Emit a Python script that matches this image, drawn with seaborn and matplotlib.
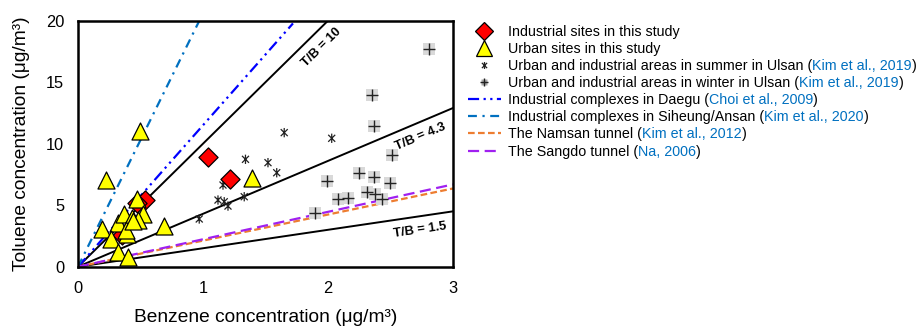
import numpy as np
import pandas as pd
import matplotlib
matplotlib.use("Agg")
import matplotlib.pyplot as plt
from matplotlib.path import Path
from matplotlib.lines import Line2D
from matplotlib.text import Annotation
import seaborn as sns

# ---------------- data ----------------
ind_benzene = [1.04, 1.22, 0.54, 0.47, 0.35]
ind_toluene = [8.94, 7.10, 5.42, 5.20, 2.55]

urb_benzene = [0.50, 0.22, 1.39, 0.19, 0.32, 0.37, 0.43, 0.47, 0.52, 0.48,
               0.69, 0.26, 0.39, 0.38, 0.32, 0.40, 0.44]
urb_toluene = [11.0, 7.05, 7.18, 3.04, 3.53, 4.30, 4.00, 5.48, 4.26, 3.80,
               3.33, 2.23, 2.63, 2.98, 1.22, 0.76, 3.70]

sum_benzene = [0.97, 1.12, 1.16, 1.17, 1.20, 1.34, 1.33, 1.52, 1.59, 1.65, 2.03]
sum_toluene = [3.88, 5.42, 6.64, 5.28, 4.93, 8.73, 5.69, 8.46, 7.64, 10.90, 10.44]

win_benzene = [2.81, 2.35, 2.37, 2.51, 1.99, 2.25, 2.37, 2.50, 2.08, 2.16,
               2.31, 2.38, 2.43, 1.90]
win_toluene = [17.70, 13.96, 11.46, 9.08, 6.99, 7.59, 7.32, 6.78, 5.50, 5.56,
               6.05, 5.90, 5.48, 4.34]

tb_ratios = [10, 4.3, 1.5]
tb_labels = ["T/B = 10", "T/B = 4.3", "T/B = 1.5"]

ref_names = ["Daegu", "Siheung", "Namsan", "Sangdo"]
ref_ratios = [11.5, 20.6, 2.12, 2.23]
ref_xmax = [1.72, 3.0, 3.0, 3.0]

legend_main = [
    "Industrial sites in this study",
    "Urban sites in this study",
    "Urban and industrial areas in summer in Ulsan (",
    "Urban and industrial areas in winter in Ulsan (",
    "Industrial complexes in Daegu (",
    "Industrial complexes in Siheung/Ansan (",
    "The Namsan tunnel (",
    "The Sangdo tunnel (",
]
legend_cite = [None, None, "Kim et al., 2019", "Kim et al., 2019",
               "Choi et al., 2009", "Kim et al., 2020", "Kim et al., 2012", "Na, 2006"]

# ---------------- style ----------------
sns.set_theme(style="white")
plt.rcParams["font.family"] = ["Liberation Sans", "DejaVu Sans"]
plt.rcParams["text.color"] = "black"
plt.rcParams["axes.labelcolor"] = "black"
plt.rcParams["xtick.color"] = "black"
plt.rcParams["ytick.color"] = "black"

fig = plt.figure(figsize=(9.21, 3.27), dpi=100)
ax = fig.add_axes([0.0847, 0.1844, 0.4071, 0.7523])

x_line = [0.0, 3.0]

# T/B ratio lines
for r in tb_ratios:
    sns.lineplot(x=x_line, y=[r * v for v in x_line], color="black",
                 linewidth=1.4, ax=ax, zorder=2)

# reference lines
ref_styles = {
    "Daegu": dict(color="#0000FF", linestyle=(0, (5, 2, 1, 2, 1, 2))),
    "Siheung": dict(color="#0070C0", linestyle=(0, (4, 2.5, 1, 2.5))),
    "Namsan": dict(color="#ED7D31", linestyle=(0, (3, 1.5))),
    "Sangdo": dict(color="#A020F0", linestyle=(0, (5, 2.5))),
}
for name, r, xm in zip(ref_names, ref_ratios, ref_xmax):
    xs = [0.0, xm]
    sns.lineplot(x=xs, y=[r * v for v in xs], linewidth=1.6, ax=ax, zorder=2,
                 **ref_styles[name])

# markers
ast_path = Path([(0, -1), (0, 1), (-0.75, -0.75), (0.75, 0.75), (-0.75, 0.75), (0.75, -0.75)],
                [Path.MOVETO, Path.LINETO, Path.MOVETO, Path.LINETO, Path.MOVETO, Path.LINETO])

sns.scatterplot(x=sum_benzene, y=sum_toluene, marker=ast_path, s=45,
                facecolor="none", edgecolor="#222222", linewidth=0.9, ax=ax, zorder=3)
sns.scatterplot(x=win_benzene, y=win_toluene, marker="s", s=75,
                color="#D9D9D9", edgecolor="none", linewidth=0, ax=ax, zorder=3)
sns.scatterplot(x=win_benzene, y=win_toluene, marker="+", s=75,
                color="#222222", linewidth=1.0, ax=ax, zorder=4)
sns.scatterplot(x=ind_benzene, y=ind_toluene, marker="D", s=95,
                color="#FF0000", edgecolor="black", linewidth=0.9, ax=ax, zorder=5)
sns.scatterplot(x=urb_benzene, y=urb_toluene, marker="^", s=150,
                color="#FFFF00", edgecolor="black", linewidth=0.9, ax=ax, zorder=6)

ax.set_xlim(0, 3)
ax.set_ylim(0, 20)
ax.set_xticks([0, 1, 2, 3])
ax.set_yticks([0, 5, 10, 15, 20])
ax.tick_params(axis="both", direction="out", length=4, width=1.4, labelsize=11.8,
               colors="black", pad=6)
for sp in ax.spines.values():
    sp.set_linewidth(1.8)
    sp.set_color("black")
ax.set_xlabel("Benzene concentration (μg/m³)", fontsize=13.8, labelpad=10, color="black")
ax.set_ylabel("Toluene concentration (μg/m³)", fontsize=13.8, labelpad=11, color="black")

# ratio labels
pix_per_x = ax.get_position().width * fig.get_figwidth() * fig.dpi / 3.0
pix_per_y = ax.get_position().height * fig.get_figheight() * fig.dpi / 20.0
label_pos = [(1.95, 17.8), (2.74, 10.6), (2.74, 3.0)]
for r, lab, (lx, ly) in zip(tb_ratios, tb_labels, label_pos):
    ang = np.degrees(np.arctan(r * pix_per_y / pix_per_x))
    ax.text(lx, ly, lab, rotation=ang, rotation_mode="anchor", ha="center",
            va="center", fontsize=9.3, fontweight="bold", color="black", zorder=7)

# legend
handles = [
    Line2D([], [], marker="D", ls="none", color="#FF0000", mec="black", mew=0.9, ms=9),
    Line2D([], [], marker="^", ls="none", color="#FFFF00", mec="black", mew=0.9, ms=11),
    Line2D([], [], marker=ast_path, ls="none", color="#222222", mfc="none", mew=0.9, ms=5),
    (Line2D([], [], marker="s", ls="none", color="#A6A6A6", mec="none", ms=5),
     Line2D([], [], marker="+", ls="none", color="#222222", mew=1.0, ms=6)),
]
for name in ref_names:
    handles.append(Line2D([], [], linewidth=1.6, **ref_styles[name]))

leg = fig.legend(handles, legend_main, loc="upper left",
                 bbox_to_anchor=(0.508, 0.925), frameon=False,
                 fontsize=10.3, handlelength=2.3, handletextpad=0.5,
                 labelspacing=0.22, borderpad=0, borderaxespad=0)
leg.set_zorder(5)
for t in leg.get_texts():
    t.set_color("black")

for txt, cite in zip(leg.get_texts(), legend_cite):
    if cite is None:
        continue
    a1 = Annotation(cite, xy=(1, 0), xycoords=txt, ha="left", va="bottom",
                    fontsize=10.3, color="#0070C0", annotation_clip=False)
    a1.set_zorder(10)
    fig.add_artist(a1)
    a2 = Annotation(")", xy=(1, 0), xycoords=a1, ha="left", va="bottom",
                    fontsize=10.3, color="black", annotation_clip=False)
    a2.set_zorder(11)
    fig.add_artist(a2)

fig.savefig("out.png", dpi=100)
